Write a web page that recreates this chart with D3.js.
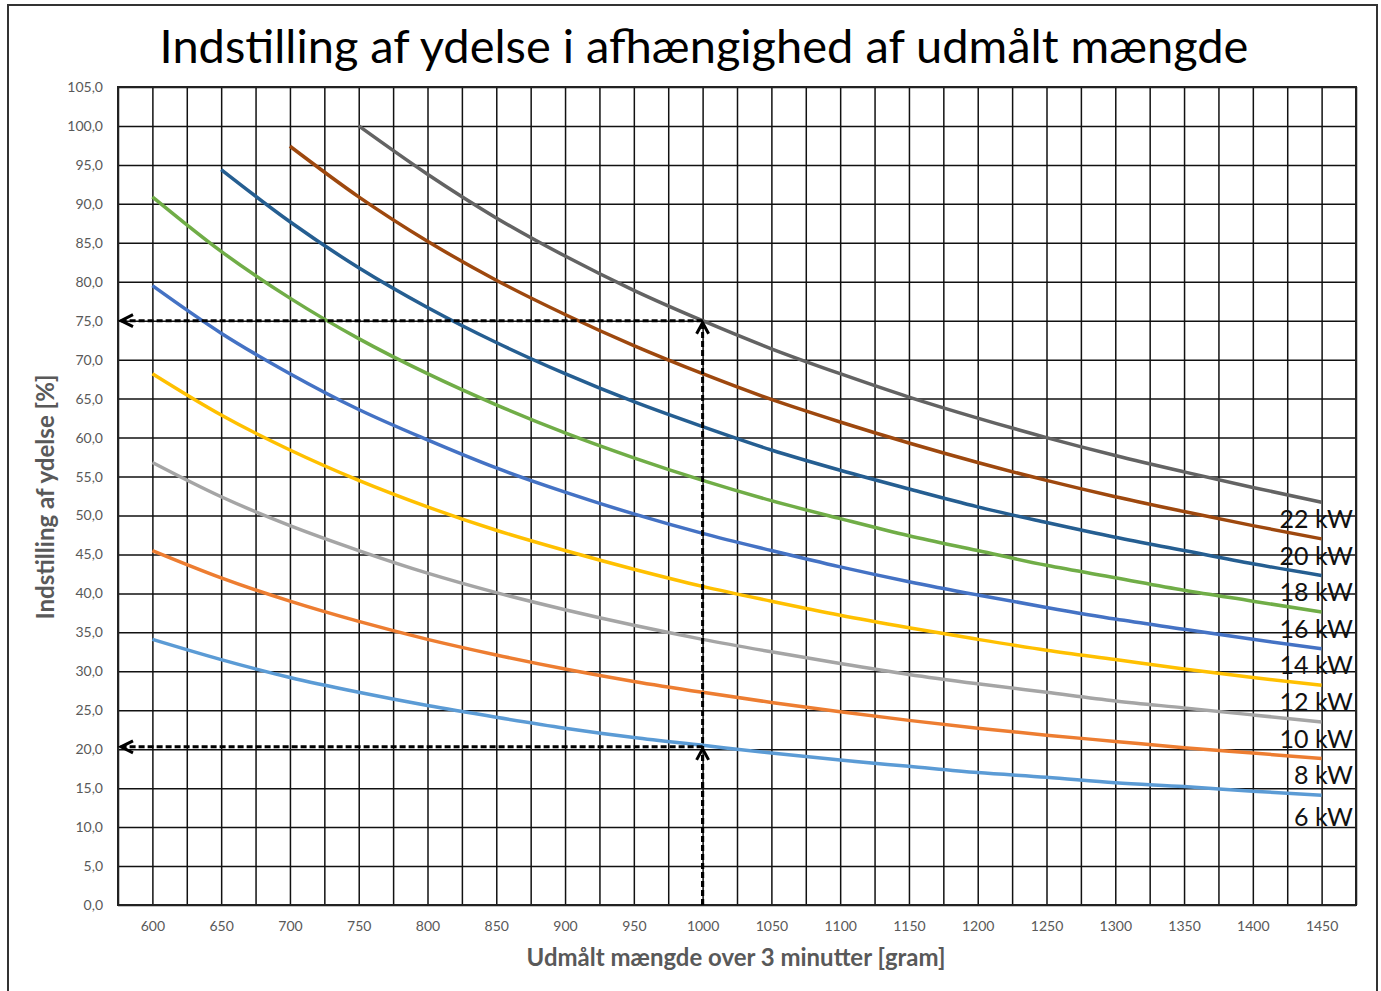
<!DOCTYPE html>
<html>
<head>
<meta charset="utf-8">
<script src="https://cdn.jsdelivr.net/npm/d3@7"></script>
<style>
  body { margin: 0; background: #fff; }
  text { font-family: Lato, "Noto Sans", sans-serif; }
</style>
</head>
<body>
<svg width="1381" height="991"></svg>
<script>
// x categories (gram over 3 minutes)
var grams = [600, 650, 700, 750, 800, 850, 900, 950, 1000, 1050, 1100, 1150, 1200, 1250, 1300, 1350, 1400, 1450];

// series values (% ydelse), null where the line has not started
var kw6  = [34.1, 31.5, 29.2, 27.3, 25.6, 24.1, 22.7, 21.5, 20.5, 19.5, 18.6, 17.8, 17.0, 16.4, 15.7, 15.2, 14.6, 14.1];
var kw8  = [45.5, 42.0, 39.0, 36.4, 34.1, 32.1, 30.3, 28.7, 27.3, 26.0, 24.8, 23.7, 22.7, 21.8, 21.0, 20.2, 19.5, 18.8];
var kw10 = [56.8, 52.4, 48.7, 45.5, 42.6, 40.1, 37.9, 35.9, 34.1, 32.5, 31.0, 29.6, 28.4, 27.3, 26.2, 25.3, 24.4, 23.5];
var kw12 = [68.2, 62.9, 58.4, 54.5, 51.1, 48.1, 45.5, 43.1, 40.9, 39.0, 37.2, 35.6, 34.1, 32.7, 31.5, 30.3, 29.2, 28.2];
var kw14 = [79.5, 73.4, 68.2, 63.6, 59.7, 56.1, 53.0, 50.2, 47.7, 45.5, 43.4, 41.5, 39.8, 38.2, 36.7, 35.4, 34.1, 32.9];
var kw16 = [90.9, 83.9, 77.9, 72.7, 68.2, 64.2, 60.6, 57.4, 54.5, 51.9, 49.6, 47.4, 45.5, 43.6, 42.0, 40.4, 39.0, 37.6];
var kw18 = [null, 94.4, 87.7, 81.8, 76.7, 72.2, 68.2, 64.6, 61.4, 58.4, 55.8, 53.4, 51.1, 49.1, 47.2, 45.5, 43.8, 42.3];
var kw20 = [null, null, 97.4, 90.9, 85.2, 80.2, 75.8, 71.8, 68.2, 64.9, 62.0, 59.3, 56.8, 54.5, 52.4, 50.5, 48.7, 47.0];
var kw22 = [null, null, null, 100.0, 93.8, 88.2, 83.3, 78.9, 75.0, 71.4, 68.2, 65.2, 62.5, 60.0, 57.7, 55.6, 53.6, 51.7];

var seriesNames = ['6 kW', '8 kW', '10 kW', '12 kW', '14 kW', '16 kW', '18 kW', '20 kW', '22 kW'];
var seriesValues = [kw6, kw8, kw10, kw12, kw14, kw16, kw18, kw20, kw22];
var colors = ['#5B9BD5', '#ED7D31', '#A5A5A5', '#FFC000', '#4472C4', '#70AD47', '#255E91', '#9E480E', '#636363'];

// reading guides (dashed arrows)
var guideX = 1000;
var guideY = [75.0, 20.3];

var yTicks = d3.range(0, 106, 5);

var svg = d3.select('svg');
var plotLeft = 118, plotTop = 87, plotRight = 1356, plotBottom = 905;

var x = d3.scaleLinear().domain([575, 1475]).range([plotLeft, plotRight]);
var y = d3.scaleLinear().domain([0, 105]).range([plotBottom, plotTop]);

var locale = d3.formatLocale({ decimal: ',', thousands: '.', grouping: [3], currency: ['', ''] });
var fmt = locale.format('.1f');

// outer frame
svg.append('rect')
    .attr('x', 8).attr('y', 5)
    .attr('width', 1369).attr('height', 1000)
    .attr('fill', 'none').attr('stroke', '#333').attr('stroke-width', 2);

// scale a text's font so it spans the width seen in the picture
function fitWidth(sel, target) {
    var size = +sel.attr('font-size');
    var w = sel.node().getComputedTextLength();
    sel.attr('font-size', size * target / w);
}

var title = svg.append('text')
    .attr('x', 704).attr('y', 63)
    .attr('text-anchor', 'middle')
    .attr('font-size', 44)
    .attr('fill', '#000')
    .text('Indstilling af ydelse i afhængighed af udmålt mængde');
fitWidth(title, 1089);

// gridlines
var grid = svg.append('g');
grid.append('g')
    .attr('transform', 'translate(' + plotLeft + ',0)')
    .call(d3.axisLeft(y).tickValues(yTicks).tickSize(-(plotRight - plotLeft)).tickFormat(''))
    .call(function(g) { g.select('.domain').remove(); });
grid.append('g')
    .attr('transform', 'translate(0,' + plotBottom + ')')
    .call(d3.axisBottom(x).tickValues(d3.range(575, 1476, 25)).tickSize(-(plotBottom - plotTop)).tickFormat(''))
    .call(function(g) { g.select('.domain').remove(); });
grid.selectAll('line').attr('stroke', '#111').attr('stroke-width', 1.5);
svg.append('rect')
    .attr('x', plotLeft).attr('y', plotTop)
    .attr('width', plotRight - plotLeft).attr('height', plotBottom - plotTop)
    .attr('fill', 'none').attr('stroke', '#222').attr('stroke-width', 2);

// tick labels
var yAxis = svg.append('g')
    .attr('transform', 'translate(' + plotLeft + ',0)')
    .call(d3.axisLeft(y).tickValues(yTicks).tickSize(0).tickPadding(15).tickFormat(fmt));
var xAxis = svg.append('g')
    .attr('transform', 'translate(0,' + plotBottom + ')')
    .call(d3.axisBottom(x).tickValues(grams).tickSize(0).tickPadding(16).tickFormat(d3.format('d')));
[yAxis, xAxis].forEach(function(a) {
    a.select('.domain').remove();
    a.selectAll('text')
        .attr('font-family', 'Lato, sans-serif')
        .attr('font-size', 14)
        .attr('fill', '#595959');
});

// axis titles
var xTitle = svg.append('text')
    .attr('x', 736).attr('y', 966)
    .attr('text-anchor', 'middle')
    .attr('font-size', 20).attr('font-weight', 'bold')
    .attr('fill', '#595959')
    .text('Udmålt mængde over 3 minutter [gram]');
fitWidth(xTitle, 419);

var yTitle = svg.append('text')
    .attr('transform', 'translate(54,497) rotate(-90)')
    .attr('text-anchor', 'middle')
    .attr('font-size', 20).attr('font-weight', 'bold')
    .attr('fill', '#595959')
    .text('Indstilling af ydelse [%]');
fitWidth(yTitle, 245);

// series lines
var line = d3.line()
    .defined(function(d) { return d.v !== null; })
    .x(function(d) { return x(d.g); })
    .y(function(d) { return y(d.v); })
    .curve(d3.curveMonotoneX);

seriesValues.forEach(function(vals, i) {
    var pts = grams.map(function(g, j) { return { g: g, v: vals[j] }; });
    svg.append('path')
        .datum(pts)
        .attr('d', line)
        .attr('fill', 'none')
        .attr('stroke', colors[i])
        .attr('stroke-width', 3.5);

    var last = vals[vals.length - 1];
    svg.append('text')
        .attr('x', 1353)
        .attr('y', y(last) + (i === 0 ? 22 : 17))
        .attr('dy', '0.35em')
        .attr('text-anchor', 'end')
        .attr('font-size', 25)
        .attr('fill', '#111')
        .text(seriesNames[i]);
});

// dashed guide arrows
var guides = svg.append('g')
    .attr('fill', 'none')
    .attr('stroke', '#000')
    .attr('stroke-width', 3);

guideY.forEach(function(v) {
    var gx = x(guideX), gy = y(v);
    guides.append('line')
        .attr('x1', gx).attr('y1', gy).attr('x2', plotLeft + 2).attr('y2', gy)
        .attr('stroke-dasharray', '6,3');
    guides.append('line')
        .attr('x1', gx).attr('y1', plotBottom).attr('x2', gx).attr('y2', gy)
        .attr('stroke-dasharray', '6,3');
    guides.append('path')
        .attr('d', 'M' + (plotLeft + 15) + ',' + (gy - 6) + 'L' + (plotLeft + 3) + ',' + gy + 'L' + (plotLeft + 15) + ',' + (gy + 6));
    guides.append('path')
        .attr('d', 'M' + (gx - 6) + ',' + (gy + 13) + 'L' + gx + ',' + (gy + 2) + 'L' + (gx + 6) + ',' + (gy + 13));
});
</script>
</body>
</html>
